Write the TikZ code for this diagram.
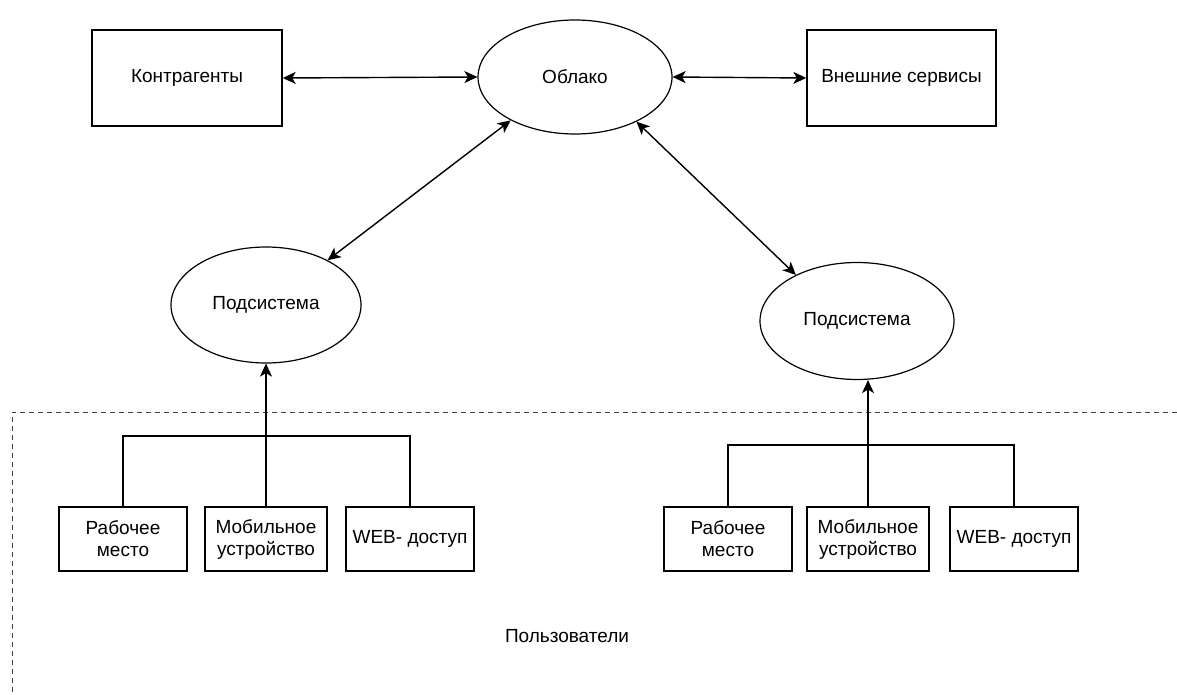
\documentclass[tikz,border=0pt]{standalone}
\usepackage{fontspec}
\setmainfont{Liberation Sans}
\usetikzlibrary{shapes.geometric,arrows.meta}
\tikzset{
  every node/.style={font=\fontsize{19}{22}\selectfont, align=center, inner sep=0pt},
  boxnode/.style={draw, line width=1.4pt, rectangle, minimum width=#1, minimum height=64pt},
  bigbox/.style={draw, line width=1.4pt, rectangle, minimum width=190pt, minimum height=96pt},
  ell/.style={draw, line width=1.2pt, ellipse, minimum width=194pt, minimum height=#1},
  conn/.style={line width=1.4pt},
  biarrow/.style={line width=1.4pt, {Stealth[length=13pt,width=12pt,inset=3.5pt]}-{Stealth[length=13pt,width=12pt,inset=3.5pt]}},
  uparrow/.style={line width=1.4pt, -{Stealth[length=13pt,width=12pt,inset=3.5pt]}},
  region/.style={line width=1pt, dash pattern=on 5pt off 4pt, black!75}
}
\begin{document}
\begin{tikzpicture}[x=1pt,y=-1pt]
\useasboundingbox (0,0) rectangle (1177,695);
% users region
\coordinate (rtr) at (1177,412);
\coordinate (rtl) at (12,412);
\coordinate (rbl) at (12,695);
\draw[region] (rtr) -- (rtl) -- (rbl);
\node (users) at (567,636) {Пользователи};

% top row
\node[bigbox] (kontr) at (187,78) {Контрагенты};
\node[ell=114pt] (cloud) at (575,77) {Облако};
\node[bigbox, minimum width=189pt] (ext) at (901.5,78) {Внешние сервисы};

% subsystems
\node[ell=116pt, minimum width=190pt] (subL) at (266,305) {Подсистема};
\node[ell=117pt] (subR) at (857,321) {Подсистема};

% left devices
\node[boxnode=122pt] (lm) at (266,539) {Мобильное\\устройство};
\node[boxnode=128pt] (lr) at (123,539) {Рабочее\\место};
\node[boxnode=128pt] (lw) at (410,539) {WEB- доступ};

% right devices
\node[boxnode=128pt] (rr) at (728,539) {Рабочее\\место};
\node[boxnode=122pt] (rm) at (868,539) {Мобильное\\устройство};
\node[boxnode=128pt] (rw) at (1014,539) {WEB- доступ};

% connectors top
\draw[biarrow] (kontr.east) -- (cloud.west);
\draw[biarrow] (cloud.east) -- (ext.west);
\draw[biarrow] (cloud.214) -- (subL.36);
\draw[biarrow] (cloud.324) -- (subR.143);

% trees
\draw[conn] (lr.north) |- (lm.north |- 0,436) -| (lw.north);
\draw[uparrow] (lm.north) -- (lm.north |- subL.south);
\draw[conn] (rr.north) |- (rm.north |- 0,445) -| (rw.north);
\draw[uparrow] (rm.north) -- (rm.north |- subR.south);
\end{tikzpicture}
\end{document}
